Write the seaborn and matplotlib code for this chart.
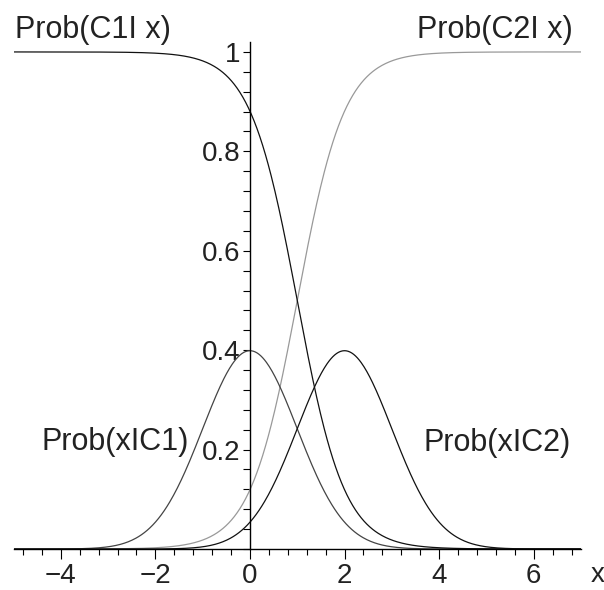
import numpy as np
import pandas as pd
import matplotlib
matplotlib.use("Agg")
import matplotlib.pyplot as plt
import seaborn as sns
from matplotlib.ticker import MultipleLocator, FixedLocator

# Two Gaussian classes with equal priors
class_names = ["C1", "C2"]
class_means = [0.0, 2.0]
class_sd = 1.0
class_priors = [0.5, 0.5]

x_range = (-5.0, 7.0)
x_ticks = [-4, -2, 0, 2, 4, 6]
x_tick_labels = ["\u22124", "\u22122", "0", "2", "4", "6"]
y_ticks = [0.2, 0.4, 0.6, 0.8, 1.0]
y_tick_labels = ["0.2", "0.4", "0.6", "0.8", "1"]

curve_labels = {
    "lik1": "Prob(xIC1)",
    "lik2": "Prob(xIC2)",
    "post1": "Prob(C1I x)",
    "post2": "Prob(C2I x)",
}
curve_colors = {"lik1": "#444444", "lik2": "#111111",
                "post1": "#111111", "post2": "#999999"}

sns.set_theme(style="white")
plt.rcParams["font.family"] = ["Liberation Sans Narrow", "Liberation Sans", "DejaVu Sans"]

xs = np.linspace(x_range[0], x_range[1], 600)


def normal_pdf(x, mu, sd):
    return np.exp(-0.5 * ((x - mu) / sd) ** 2) / (sd * np.sqrt(2 * np.pi))


lik = [normal_pdf(xs, m, class_sd) for m in class_means]
evidence = class_priors[0] * lik[0] + class_priors[1] * lik[1]
post = [class_priors[i] * lik[i] / evidence for i in range(2)]

df = pd.concat([
    pd.DataFrame({"x": xs, "p": lik[0], "curve": "lik1"}),
    pd.DataFrame({"x": xs, "p": lik[1], "curve": "lik2"}),
    pd.DataFrame({"x": xs, "p": post[0], "curve": "post1"}),
    pd.DataFrame({"x": xs, "p": post[1], "curve": "post2"}),
])

fig = plt.figure(figsize=(6.04, 5.90), dpi=100)
ax = fig.add_axes([13.5 / 604, 1 - 549 / 590, (581 - 13.5) / 604, (549 - 42) / 590])

for key in ["post2", "lik1", "lik2", "post1"]:
    sns.lineplot(data=df[df["curve"] == key], x="x", y="p", ax=ax,
                 color=curve_colors[key], linewidth=0.9, legend=False)

ax.set_xlim(*x_range)
ax.set_ylim(0, 1.02)

# Axes cross at the origin
for side in ["top", "right"]:
    ax.spines[side].set_visible(False)
ax.spines["left"].set_position(("data", 0))
ax.spines["bottom"].set_position(("data", 0))
for side in ["left", "bottom"]:
    ax.spines[side].set_color("black")
    ax.spines[side].set_linewidth(1.0)

ax.xaxis.set_major_locator(FixedLocator(x_ticks))
ax.set_xticklabels(x_tick_labels)
ax.xaxis.set_minor_locator(MultipleLocator(0.4))
ax.yaxis.set_major_locator(FixedLocator(y_ticks))
ax.set_yticklabels(y_tick_labels)
ax.yaxis.set_minor_locator(MultipleLocator(0.04))

ax.tick_params(axis="x", which="major", direction="out", length=7, width=0.8,
               colors="black", labelsize=20, pad=3, bottom=True)
ax.tick_params(axis="x", which="minor", direction="out", length=4, width=0.8,
               colors="black", bottom=True)
ax.tick_params(axis="y", which="both", direction="out", length=5, width=0.8,
               colors="black", labelsize=20, pad=2, left=True)
for lab in ax.get_xticklabels() + ax.get_yticklabels():
    lab.set_color("#222222")

ax.set_xlabel("")
ax.set_ylabel("")
ax.text(7.35, -0.052, "x", fontsize=20, color="#222222", ha="center", va="center",
        clip_on=False)

text_kw = dict(fontsize=22, color="#222222", va="center", clip_on=False)
ax.text(-4.97, 1.044, curve_labels["post1"], ha="left", **text_kw)
ax.text(3.53, 1.044, curve_labels["post2"], ha="left", **text_kw)
ax.text(-4.4, 0.215, curve_labels["lik1"], ha="left", **text_kw)
ax.text(3.66, 0.213, curve_labels["lik2"], ha="left", **text_kw)

fig.savefig("out.png", dpi=100, facecolor="white")
